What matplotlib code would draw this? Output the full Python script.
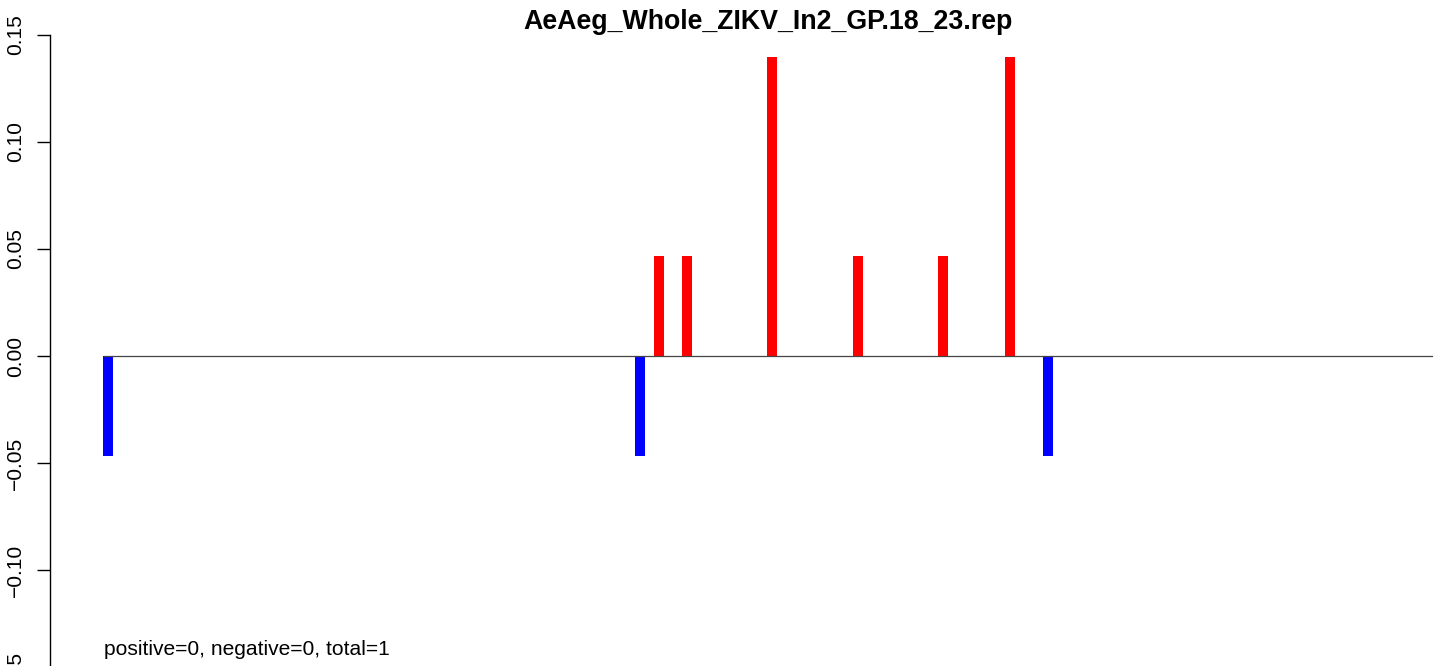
import matplotlib
matplotlib.use("Agg")
import matplotlib.pyplot as plt

plt.rcParams['font.family'] = ['Liberation Sans', 'DejaVu Sans']

title = "AeAeg_Whole_ZIKV_In2_GP.18_23.rep"
annotation = "positive=0, negative=0, total=1"

# positions along the sequence and values
pos_positions = [59, 62, 71, 80, 89, 96]
pos_values = [0.0465, 0.0465, 0.1395, 0.0465, 0.0465, 0.1395]
neg_positions = [1, 57, 100]
neg_values = [-0.0465, -0.0465, -0.0465]

x_start, x_end = 0.5, 140.5
y_ticks = [-0.15, -0.10, -0.05, 0.00, 0.05, 0.10, 0.15]
y_ticklabels = ["\u22120.15", "\u22120.10", "\u22120.05", "0.00", "0.05", "0.10", "0.15"]

W, H = 1449, 666
fig = plt.figure(figsize=(W / 100, H / 100), dpi=100)

ax_l, ax_r = 50.5, 1485.0
ax_t, ax_b = 9.3, 702.7
ax = fig.add_axes([ax_l / W, 1 - ax_b / H, (ax_r - ax_l) / W, (ax_b - ax_t) / H])

ext = 0.04 * (x_end - x_start)
ax.set_xlim(x_start - ext, x_end + ext)
ax.set_ylim(-0.162, 0.162)

bw = 1.054
ax.bar(pos_positions, pos_values, width=bw, color="#ff0000", linewidth=0, zorder=2)
ax.bar(neg_positions, neg_values, width=bw, color="#0000ff", linewidth=0, zorder=2)
ax.plot([x_start, x_end], [0, 0], color="#444444", linewidth=0.9, zorder=3)

for s in ["top", "right", "bottom"]:
    ax.spines[s].set_visible(False)
ax.spines["left"].set_bounds(-0.15, 0.15)
ax.spines["left"].set_linewidth(1.0)
ax.set_xticks([])
ax.set_yticks(y_ticks)
ax.set_yticklabels(y_ticklabels, rotation=90, va="center", fontsize=15.1)
ax.tick_params(axis="y", length=9.3, width=1.0, pad=9)

ax.text(0.5, -0.137, annotation, fontsize=15.1, ha="left", va="center")

fig.text(768 / W, 1 - 22 / H, title, ha="center", va="center",
         fontsize=19.3, fontweight="bold")

fig.savefig("out.png", dpi=100)
